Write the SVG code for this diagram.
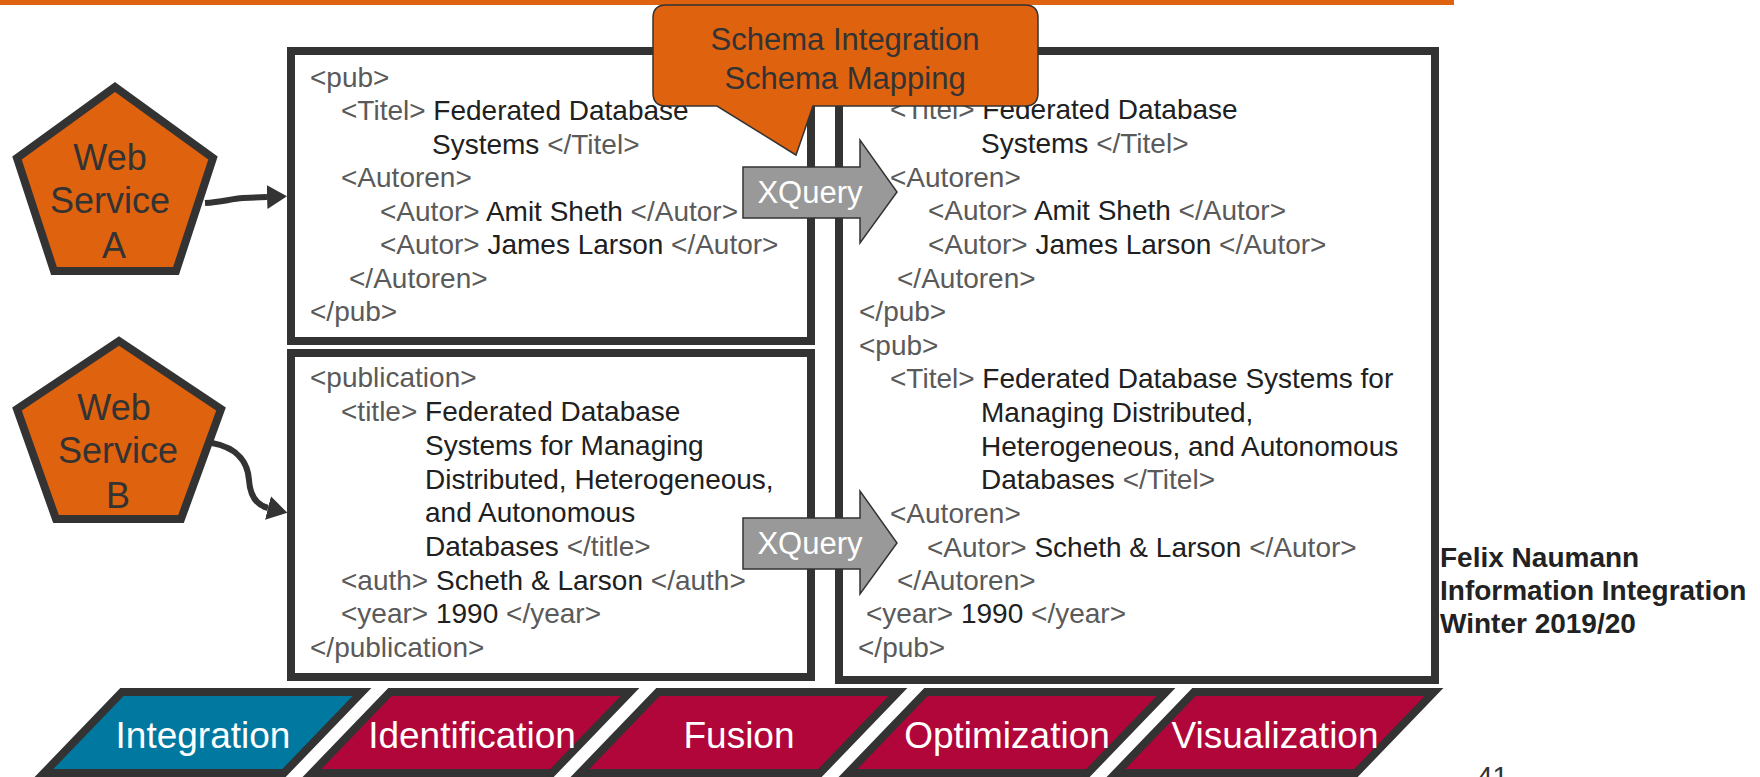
<svg xmlns="http://www.w3.org/2000/svg" width="1760" height="777" viewBox="0 0 1760 777">
<style>
  .box { fill: #ffffff; stroke: #333333; stroke-width: 8; }
  .x { font-family: "Liberation Sans", Arial, sans-serif; font-size: 28px; fill: #202020; }
  .t { fill: #5a5a5a; }
  .pent { fill: #DF620E; stroke: #333333; stroke-width: 8; stroke-linejoin: miter; }
  .pt { font-family: "Liberation Sans", Arial, sans-serif; font-size: 36px; fill: #333333; text-anchor: middle; }
  .conn { fill: none; stroke: #333333; stroke-width: 6; }
  .xq { fill: #999999; stroke: #333333; stroke-width: 1.5; }
  .xqt { font-family: "Liberation Sans", Arial, sans-serif; font-size: 31px; fill: #ffffff; text-anchor: middle; }
  .call { fill: #DF620E; stroke: #333333; stroke-width: 1.5; }
  .ct { font-family: "Liberation Sans", Arial, sans-serif; font-size: 31px; fill: #333333; text-anchor: middle; }
  .step { stroke: #333333; stroke-width: 8; stroke-linejoin: miter; }
  .st { font-family: "Liberation Sans", Arial, sans-serif; font-size: 37px; fill: #ffffff; text-anchor: middle; }
  .foot { font-family: "Liberation Sans", Arial, sans-serif; font-size: 28px; font-weight: bold; fill: #222222; }
</style>
<defs>
  <marker id="ah" viewBox="0 0 20 24" refX="0" refY="12" markerWidth="20" markerHeight="24" markerUnits="userSpaceOnUse" orient="auto">
    <polygon points="0,0 20,12 0,24" fill="#333333"/>
  </marker>
</defs>

<rect x="0" y="0" width="1454" height="5" fill="#DF620E"/>

<g id="box-a">
  <rect class="box" x="291" y="51" width="520" height="290"/>
  <text class="x"><tspan class="t" x="310" y="87">&lt;pub&gt;</tspan></text>
  <text class="x" x="341" y="120"><tspan class="t">&lt;Titel&gt;</tspan> Federated Database</text>
  <text class="x" x="432" y="154">Systems <tspan class="t">&lt;/Titel&gt;</tspan></text>
  <text class="x" x="341" y="187"><tspan class="t">&lt;Autoren&gt;</tspan></text>
  <text class="x" x="380" y="221"><tspan class="t">&lt;Autor&gt;</tspan> Amit Sheth <tspan class="t">&lt;/Autor&gt;</tspan></text>
  <text class="x" x="380" y="254"><tspan class="t">&lt;Autor&gt;</tspan> James Larson <tspan class="t">&lt;/Autor&gt;</tspan></text>
  <text class="x" x="349" y="288"><tspan class="t">&lt;/Autoren&gt;</tspan></text>
  <text class="x" x="310" y="321"><tspan class="t">&lt;/pub&gt;</tspan></text>
</g>

<g id="box-b">
  <rect class="box" x="291" y="353" width="520" height="324"/>
  <text class="x" x="310" y="387"><tspan class="t">&lt;publication&gt;</tspan></text>
  <text class="x" x="341" y="421"><tspan class="t">&lt;title&gt;</tspan> Federated Database</text>
  <text class="x" x="425" y="455">Systems for Managing</text>
  <text class="x" x="425" y="489">Distributed, Heterogeneous,</text>
  <text class="x" x="425" y="522">and Autonomous</text>
  <text class="x" x="425" y="556">Databases <tspan class="t">&lt;/title&gt;</tspan></text>
  <text class="x" x="341" y="590"><tspan class="t">&lt;auth&gt;</tspan> Scheth &amp; Larson <tspan class="t">&lt;/auth&gt;</tspan></text>
  <text class="x" x="341" y="623"><tspan class="t">&lt;year&gt;</tspan> 1990 <tspan class="t">&lt;/year&gt;</tspan></text>
  <text class="x" x="310" y="657"><tspan class="t">&lt;/publication&gt;</tspan></text>
</g>

<g id="box-result">
  <rect class="box" x="839" y="51" width="596" height="629"/>
  <text class="x" x="890" y="119"><tspan class="t">&lt;Titel&gt;</tspan> Federated Database</text>
  <text class="x" x="981" y="153">Systems <tspan class="t">&lt;/Titel&gt;</tspan></text>
  <text class="x" x="890" y="187"><tspan class="t">&lt;Autoren&gt;</tspan></text>
  <text class="x" x="928" y="220"><tspan class="t">&lt;Autor&gt;</tspan> Amit Sheth <tspan class="t">&lt;/Autor&gt;</tspan></text>
  <text class="x" x="928" y="254"><tspan class="t">&lt;Autor&gt;</tspan> James Larson <tspan class="t">&lt;/Autor&gt;</tspan></text>
  <text class="x" x="897" y="288"><tspan class="t">&lt;/Autoren&gt;</tspan></text>
  <text class="x" x="859" y="321"><tspan class="t">&lt;/pub&gt;</tspan></text>
  <text class="x" x="859" y="355"><tspan class="t">&lt;pub&gt;</tspan></text>
  <text class="x" x="890" y="388"><tspan class="t">&lt;Titel&gt;</tspan> Federated Database Systems for</text>
  <text class="x" x="981" y="422">Managing Distributed,</text>
  <text class="x" x="981" y="456">Heterogeneous, and Autonomous</text>
  <text class="x" x="981" y="489">Databases <tspan class="t">&lt;/Titel&gt;</tspan></text>
  <text class="x" x="890" y="523"><tspan class="t">&lt;Autoren&gt;</tspan></text>
  <text class="x" x="927" y="557"><tspan class="t">&lt;Autor&gt;</tspan> Scheth &amp; Larson <tspan class="t">&lt;/Autor&gt;</tspan></text>
  <text class="x" x="897" y="590"><tspan class="t">&lt;/Autoren&gt;</tspan></text>
  <text class="x" x="866" y="623"><tspan class="t">&lt;year&gt;</tspan> 1990 <tspan class="t">&lt;/year&gt;</tspan></text>
  <text class="x" x="858" y="657"><tspan class="t">&lt;/pub&gt;</tspan></text>
</g>

<g id="ws-a">
  <path class="pent" d="M115 87 L213 158 L176 271 L54 271 L17 158 Z"/>
  <text class="pt" x="110" y="170">Web</text>
  <text class="pt" x="110" y="213">Service</text>
  <text class="pt" x="114" y="258">A</text>
</g>

<g id="ws-b">
  <path class="pent" d="M119 341 L221 409 L181 519 L56 519 L17 409 Z"/>
  <text class="pt" x="114" y="420">Web</text>
  <text class="pt" x="118" y="463">Service</text>
  <text class="pt" x="118" y="508">B</text>
</g>

<g id="connectors">
  <path class="conn" d="M205 203 C222 202 230 199 243 198 L267 197" marker-end="url(#ah)"/>
  <path class="conn" d="M212 443 C240 448 248 465 249 480 C250 495 256 505 268 508" marker-end="url(#ah)"/>
</g>

<g id="xquery-1">
  <path class="xq" d="M743 167 H860 V140 L897 192 L860 243 V218 H743 Z"/>
  <text class="xqt" x="810" y="203">XQuery</text>
</g>

<g id="xquery-2">
  <path class="xq" d="M743 518 H860 V491 L897 543 L860 594 V569 H743 Z"/>
  <text class="xqt" x="810" y="554">XQuery</text>
</g>

<g id="callout">
  <path class="call" d="M666 5 H1025 Q1038 5 1038 18 V93 Q1038 106 1025 106 H813 L796 155 L717 106 H666 Q653 106 653 93 V18 Q653 5 666 5 Z"/>
  <text class="ct" x="845" y="50">Schema Integration</text>
  <text class="ct" x="845" y="89">Schema Mapping</text>
</g>

<g id="step-integration">
  <path class="step" fill="#00789F" d="M122 692 H362 L284 773 H44 Z"/>
  <text class="st" x="203" y="748">Integration</text>
</g>
<g id="step-identification">
  <path class="step" fill="#B1063A" d="M390 692 H630 L552 773 H312 Z"/>
  <text class="st" x="472" y="748">Identification</text>
</g>
<g id="step-fusion">
  <path class="step" fill="#B1063A" d="M658 692 H898 L820 773 H580 Z"/>
  <text class="st" x="739" y="748">Fusion</text>
</g>
<g id="step-optimization">
  <path class="step" fill="#B1063A" d="M926 692 H1166 L1088 773 H848 Z"/>
  <text class="st" x="1007" y="748">Optimization</text>
</g>
<g id="step-visualization">
  <path class="step" fill="#B1063A" d="M1194 692 H1434 L1356 773 H1116 Z"/>
  <text class="st" x="1275" y="748">Visualization</text>
</g>

<g id="footer">
  <text class="foot" x="1440" y="567">Felix Naumann</text>
  <text class="foot" x="1440" y="600">Information Integration</text>
  <text class="foot" x="1440" y="633">Winter 2019/20</text>
  <text x="1477" y="786" font-family="Liberation Sans, Arial, sans-serif" font-size="28" fill="#333333">41</text>
</g>
</svg>
